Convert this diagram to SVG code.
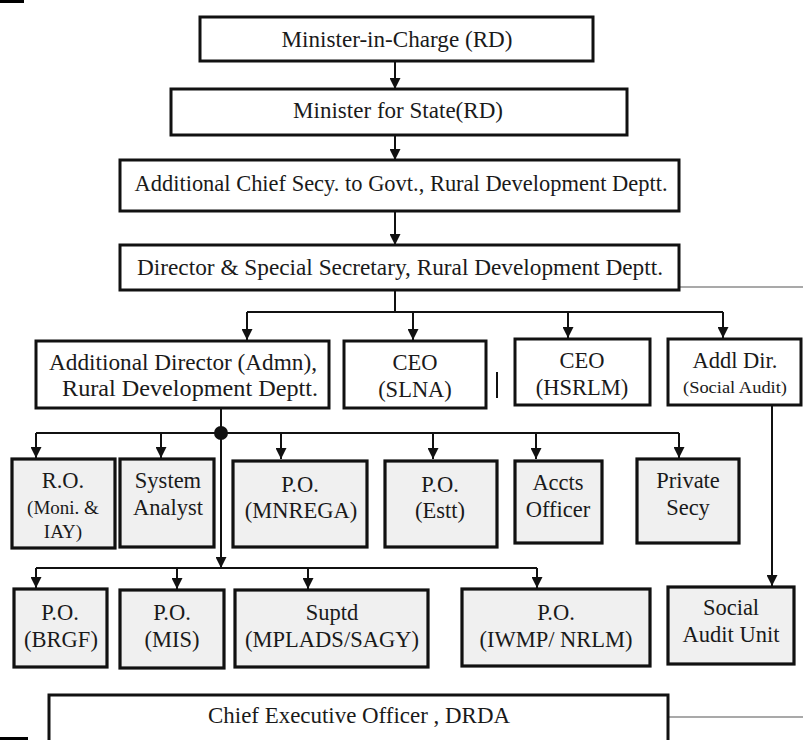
<svg xmlns="http://www.w3.org/2000/svg" width="803" height="740" viewBox="0 0 803 740">
<style>
.box{fill:#fff;stroke:#111;stroke-width:3}
.gbox{fill:#f0f0f0;stroke:#111;stroke-width:3.2}
.t{font-family:'Liberation Serif','Times New Roman',serif;font-size:22.5px;fill:#1a1a1a;text-anchor:middle}
.c{fill:none;stroke:#111;stroke-width:2}
.thin{fill:none;stroke:#555;stroke-width:1.2}
</style>
<defs>
<marker id="ah" viewBox="0 0 10 10" refX="10" refY="5" markerWidth="11" markerHeight="11" markerUnits="userSpaceOnUse" orient="auto">
<path d="M0,0 L10,5 L0,10 z" fill="#111"/>
</marker>
</defs>
<rect x="0" y="0" width="24" height="3" fill="#000"/>
<rect x="0" y="737" width="28" height="3" fill="#000"/>

<g id="connectors">
<path class="c" d="M395,61 V89" marker-end="url(#ah)"/>
<path class="c" d="M395,135 V160" marker-end="url(#ah)"/>
<path class="c" d="M395,211 V245" marker-end="url(#ah)"/>
<path class="c" d="M395,290 V312 M247,312 H723"/>
<path class="c" d="M247,312 V340" marker-end="url(#ah)"/>
<path class="c" d="M413,312 V340" marker-end="url(#ah)"/>
<path class="c" d="M568,312 V338" marker-end="url(#ah)"/>
<path class="c" d="M723,312 V338" marker-end="url(#ah)"/>
<path class="thin" d="M679,287 H803"/>
<path class="thin" d="M668,717 H803"/>
<path class="c" d="M497,372 V398"/>
<path class="c" d="M221,408 V433 M36,433 H679"/>
<circle cx="221" cy="433" r="7" fill="#111"/>
<path class="c" d="M36,433 V458" marker-end="url(#ah)"/>
<path class="c" d="M161,433 V458" marker-end="url(#ah)"/>
<path class="c" d="M281,433 V459" marker-end="url(#ah)"/>
<path class="c" d="M433,433 V459" marker-end="url(#ah)"/>
<path class="c" d="M536,433 V459" marker-end="url(#ah)"/>
<path class="c" d="M679,433 V458" marker-end="url(#ah)"/>
<path class="c" d="M221,433 V568" marker-end="url(#ah)"/>
<path class="c" d="M36,568 H537"/>
<path class="c" d="M36,568 V588" marker-end="url(#ah)"/>
<path class="c" d="M177,568 V589" marker-end="url(#ah)"/>
<path class="c" d="M308,568 V589" marker-end="url(#ah)"/>
<path class="c" d="M537,568 V588" marker-end="url(#ah)"/>
<path class="c" d="M772,405 V586" marker-end="url(#ah)"/>
</g>

<g id="minister-in-charge">
<rect class="box" x="200" y="17" width="393" height="44"/>
<text class="t" x="397" y="47" textLength="231" lengthAdjust="spacingAndGlyphs">Minister-in-Charge (RD)</text>
</g>
<g id="minister-state">
<rect class="box" x="171" y="89" width="456" height="46"/>
<text class="t" x="398" y="118" textLength="210" lengthAdjust="spacingAndGlyphs">Minister for State(RD)</text>
</g>
<g id="acs">
<rect class="box" x="120" y="160" width="559" height="51"/>
<text class="t" x="401" y="191" textLength="533" lengthAdjust="spacingAndGlyphs">Additional Chief Secy. to Govt., Rural Development Deptt.</text>
</g>
<g id="director">
<rect class="box" x="120" y="245" width="559" height="45"/>
<text class="t" x="400" y="275" textLength="526" lengthAdjust="spacingAndGlyphs">Director &amp; Special Secretary, Rural Development Deptt.</text>
</g>

<g id="addl-director-admn">
<rect class="box" x="36" y="341" width="293" height="67"/>
<text class="t" x="183" y="370" textLength="268" lengthAdjust="spacingAndGlyphs">Additional Director (Admn),</text>
<text class="t" x="190" y="396" textLength="256" lengthAdjust="spacingAndGlyphs">Rural Development Deptt.</text>
</g>
<g id="ceo-slna">
<rect class="box" x="344" y="341" width="142" height="67"/>
<text class="t" x="415" y="370">CEO</text>
<text class="t" x="415" y="397">(SLNA)</text>
</g>
<g id="ceo-hsrlm">
<rect class="box" x="515" y="339" width="135" height="66"/>
<text class="t" x="582" y="368">CEO</text>
<text class="t" x="582" y="395">(HSRLM)</text>
</g>
<g id="addl-dir-sa">
<rect class="box" x="668" y="339" width="133" height="66"/>
<text class="t" x="735" y="368">Addl Dir.</text>
<text class="t" x="735" y="393" font-size="16" textLength="104" lengthAdjust="spacingAndGlyphs" style="font-size:16px">(Social Audit)</text>
</g>

<g id="ro">
<rect class="gbox" x="12" y="459" width="103" height="89"/>
<text class="t" x="63" y="488">R.O.</text>
<text class="t" x="63" y="514" style="font-size:19px">(Moni. &amp;</text>
<text class="t" x="63" y="538" style="font-size:19px">IAY)</text>
</g>
<g id="system-analyst">
<rect class="gbox" x="120" y="459" width="94" height="88"/>
<text class="t" x="168" y="488">System</text>
<text class="t" x="168" y="515">Analyst</text>
</g>
<g id="po-mnrega">
<rect class="gbox" x="233" y="461" width="134" height="86"/>
<text class="t" x="300" y="492">P.O.</text>
<text class="t" x="301" y="518">(MNREGA)</text>
</g>
<g id="po-estt">
<rect class="gbox" x="385" y="461" width="112" height="86"/>
<text class="t" x="440" y="492">P.O.</text>
<text class="t" x="440" y="518">(Estt)</text>
</g>
<g id="accts-officer">
<rect class="gbox" x="515" y="461" width="87" height="82"/>
<text class="t" x="558" y="490">Accts</text>
<text class="t" x="558" y="517">Officer</text>
</g>
<g id="private-secy">
<rect class="gbox" x="637" y="459" width="102" height="84"/>
<text class="t" x="688" y="488">Private</text>
<text class="t" x="688" y="515">Secy</text>
</g>

<g id="po-brgf">
<rect class="gbox" x="14" y="589" width="93" height="78"/>
<text class="t" x="60" y="620">P.O.</text>
<text class="t" x="61" y="647">(BRGF)</text>
</g>
<g id="po-mis">
<rect class="gbox" x="120" y="590" width="104" height="78"/>
<text class="t" x="172" y="620">P.O.</text>
<text class="t" x="172" y="647">(MIS)</text>
</g>
<g id="suptd">
<rect class="gbox" x="235" y="590" width="193" height="77"/>
<text class="t" x="332" y="620">Suptd</text>
<text class="t" x="332" y="647">(MPLADS/SAGY)</text>
</g>
<g id="po-iwmp">
<rect class="gbox" x="462" y="589" width="188" height="77"/>
<text class="t" x="556" y="620">P.O.</text>
<text class="t" x="556" y="647">(IWMP/ NRLM)</text>
</g>
<g id="social-audit-unit">
<rect class="gbox" x="668" y="587" width="126" height="77"/>
<text class="t" x="731" y="615">Social</text>
<text class="t" x="731" y="642">Audit Unit</text>
</g>

<g id="ceo-drda">
<rect class="box" x="49" y="695" width="619" height="60"/>
<text class="t" x="359" y="723" textLength="302" lengthAdjust="spacingAndGlyphs">Chief Executive Officer , DRDA</text>
</g>
</svg>
